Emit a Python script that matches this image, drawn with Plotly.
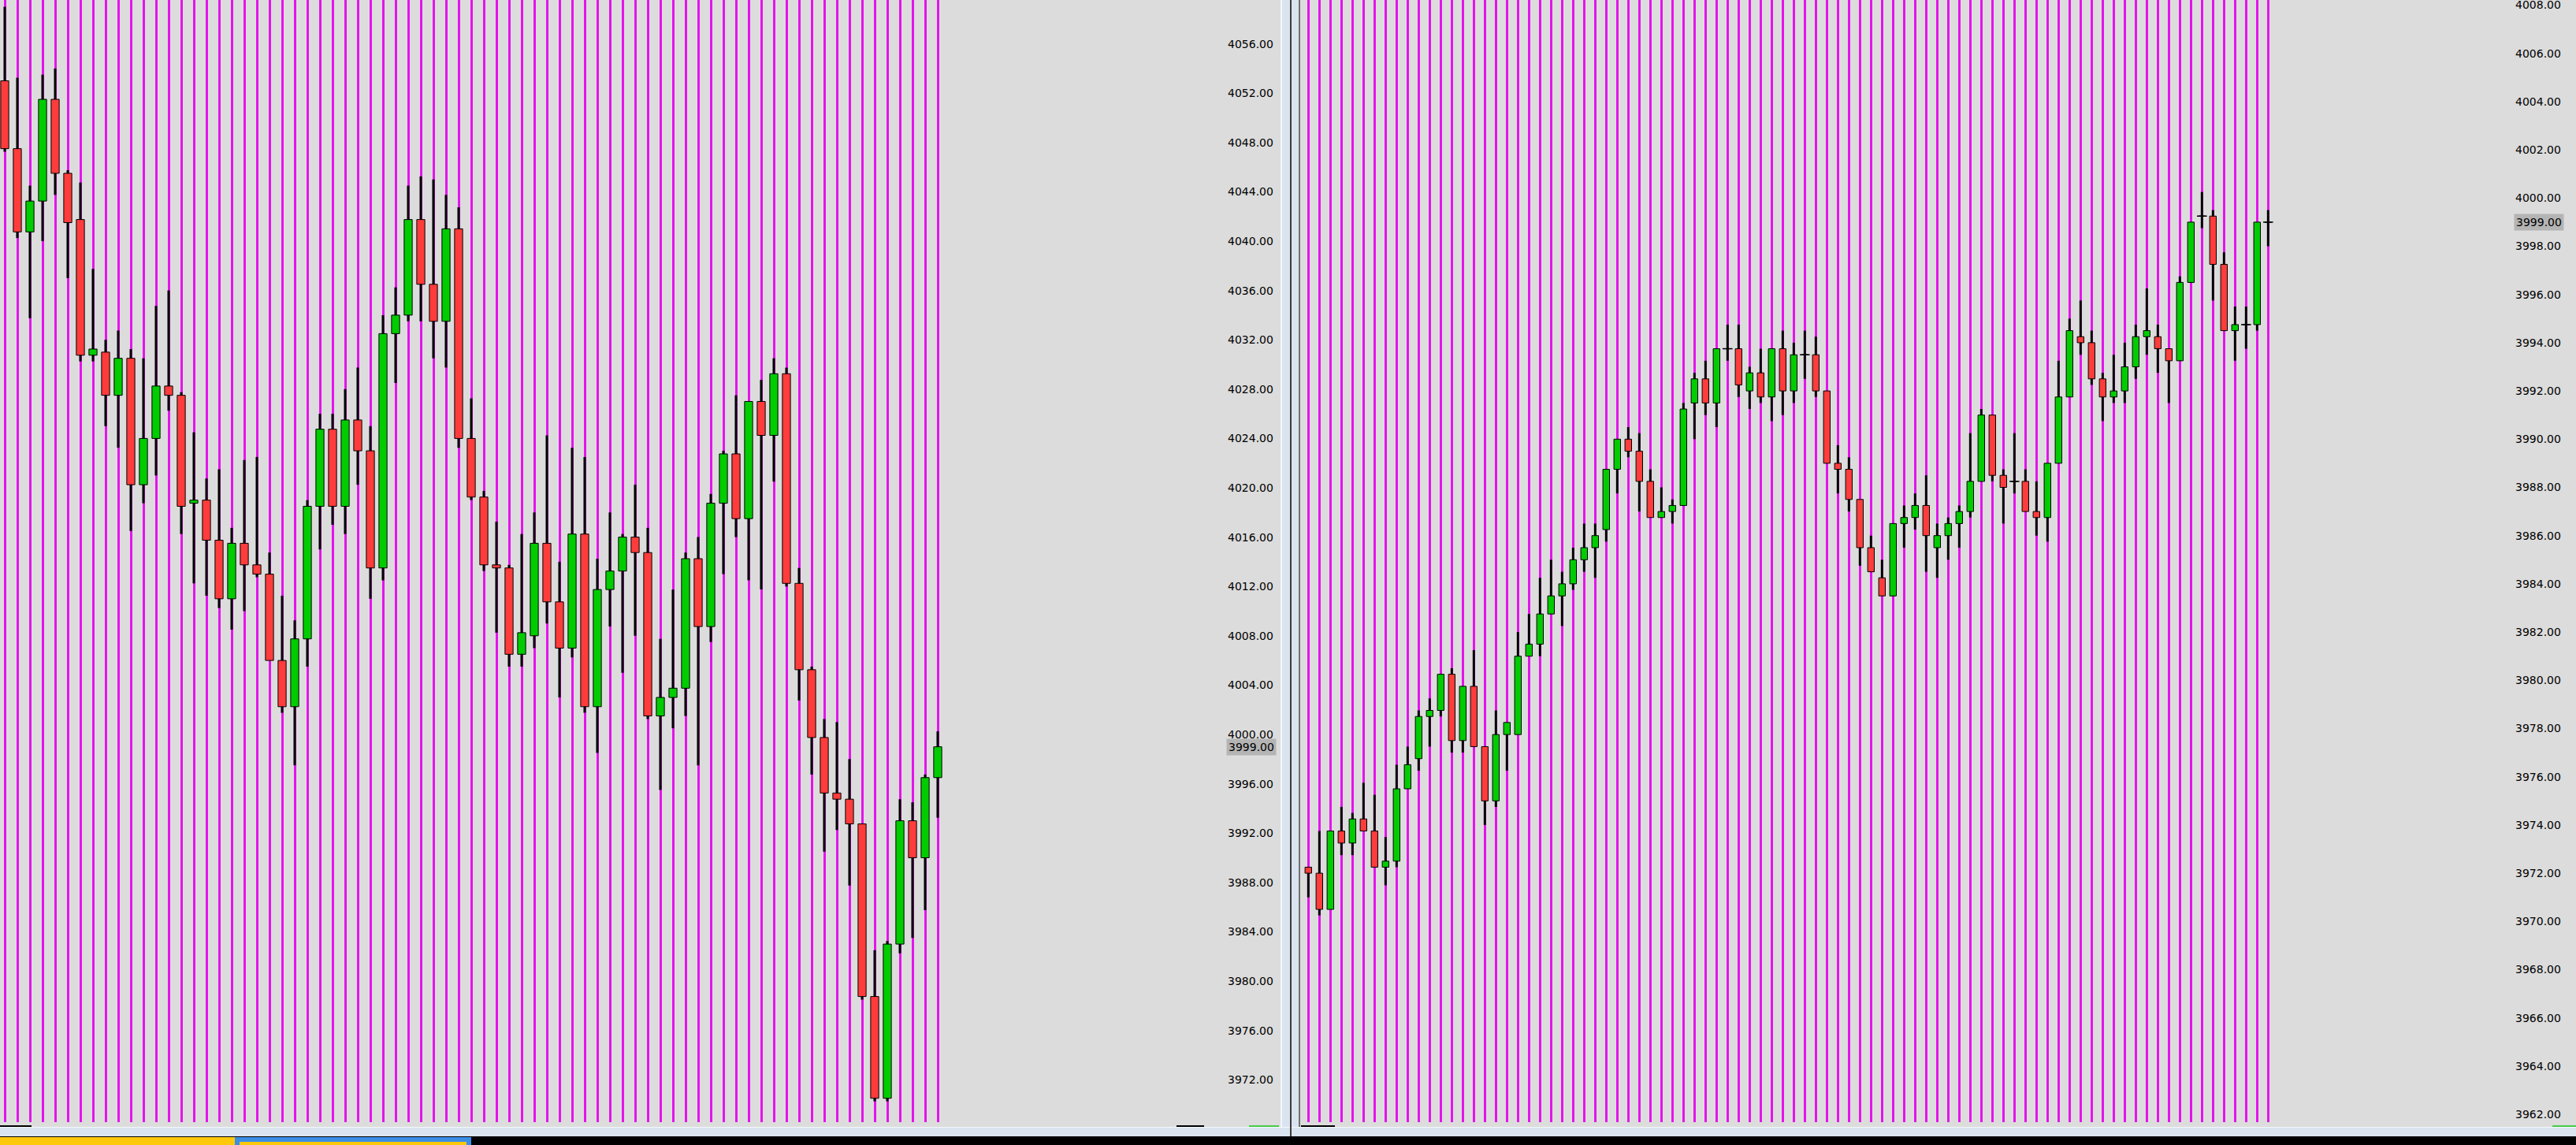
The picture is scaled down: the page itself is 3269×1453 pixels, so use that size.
import plotly.graph_objects as go

W, H = 3269, 1453

# ---------------- data: left panel (75 bars) ----------------
L_open = [4053.0, 4047.5, 4040.75, 4043.25, 4051.5, 4045.5, 4041.75, 4030.75, 4031.0, 4027.5,
          4030.5, 4020.25, 4024.0, 4028.25, 4027.5, 4018.75, 4019.0, 4015.75, 4011.0, 4015.5,
          4013.75, 4013.0, 4006.0, 4002.25, 4007.75, 4018.5, 4024.75, 4018.5, 4025.5, 4023.0,
          4013.5, 4032.5, 4034.0, 4041.75, 4036.5, 4033.5, 4041.0, 4024.0, 4019.25, 4013.75,
          4013.5, 4006.5, 4008.0, 4015.5, 4010.75, 4007.0, 4016.25, 4002.25, 4011.75, 4013.25,
          4016.0, 4014.75, 4001.5, 4003.0, 4003.75, 4014.25, 4008.75, 4018.75, 4022.75, 4017.5,
          4027.0, 4024.25, 4029.25, 4012.25, 4005.25, 3999.75, 3995.25, 3994.75, 3992.75, 3978.75,
          3970.5, 3983.0, 3993.0, 3990.0, 3996.5]
L_high = [4059.0, 4053.25, 4044.5, 4053.5, 4054.0, 4045.75, 4044.75, 4037.75, 4032.0, 4032.75,
          4031.25, 4030.5, 4034.75, 4036.0, 4027.75, 4024.5, 4020.75, 4021.5, 4016.75, 4022.25,
          4022.5, 4014.75, 4011.25, 4009.25, 4019.0, 4026.0, 4026.0, 4028.0, 4029.75, 4025.0,
          4034.0, 4036.25, 4044.5, 4045.25, 4045.0, 4043.75, 4042.75, 4027.25, 4019.75, 4017.25,
          4013.75, 4016.25, 4018.0, 4024.25, 4014.0, 4023.25, 4022.5, 4014.25, 4018.0, 4016.25,
          4020.25, 4016.75, 4007.75, 4011.75, 4014.75, 4016.0, 4019.5, 4023.0, 4027.5, 4027.0,
          4028.75, 4030.5, 4029.75, 4013.5, 4005.5, 4001.25, 4001.0, 3998.0, 3992.75, 3982.5,
          3983.25, 3994.75, 3994.5, 3996.75, 4000.25]
L_low = [4047.25, 4040.25, 4033.75, 4040.0, 4043.75, 4037.0, 4030.25, 4030.25, 4025.0, 4023.25,
         4016.5, 4018.75, 4021.0, 4026.25, 4016.25, 4012.25, 4011.25, 4010.25, 4008.5, 4010.0,
         4012.75, 4006.0, 4001.75, 3997.5, 4005.5, 4015.0, 4017.0, 4016.25, 4020.25, 4011.0,
         4012.5, 4028.5, 4033.5, 4033.5, 4030.5, 4029.75, 4023.25, 4019.0, 4013.25, 4008.25,
         4005.5, 4005.5, 4007.0, 4009.0, 4003.0, 4006.25, 4001.75, 3998.5, 4008.75, 4005.0,
         4008.0, 4001.25, 3995.5, 4000.5, 4001.5, 3997.5, 4007.5, 4013.0, 4016.0, 4012.5,
         4011.75, 4020.5, 4012.0, 4002.75, 3996.75, 3990.5, 3992.25, 3987.75, 3978.5, 3970.25,
         3970.25, 3982.25, 3983.5, 3985.75, 3993.25]
L_close = [4047.5, 4040.75, 4043.25, 4051.5, 4045.5, 4041.5, 4030.75, 4031.25, 4027.5, 4030.5,
           4020.25, 4024.0, 4028.25, 4027.5, 4018.5, 4019.0, 4015.75, 4011.0, 4015.5, 4013.75,
           4013.0, 4006.0, 4002.25, 4007.75, 4018.5, 4024.75, 4018.5, 4025.5, 4023.0, 4013.5,
           4032.5, 4034.0, 4041.75, 4036.5, 4033.5, 4041.0, 4024.0, 4019.25, 4013.75, 4013.5,
           4006.5, 4008.25, 4015.5, 4010.75, 4007.0, 4016.25, 4002.25, 4011.75, 4013.25, 4016.0,
           4014.75, 4001.5, 4003.0, 4003.75, 4014.25, 4008.75, 4018.75, 4022.75, 4017.5, 4027.0,
           4024.25, 4029.25, 4012.25, 4005.25, 3999.75, 3995.25, 3994.75, 3992.75, 3978.75, 3970.5,
           3983.0, 3993.0, 3990.0, 3996.5, 3999.0]
L_ticks = [3972 + 4 * k for k in range(22)]          # 3972 .. 4056

# ---------------- data: right panel (88 bars) ----------------
R_open = [3972.25, 3972.0, 3970.5, 3973.75, 3973.25, 3974.25, 3973.75, 3972.25, 3972.5, 3975.5,
          3976.75, 3978.5, 3978.75, 3980.25, 3977.5, 3979.75, 3977.25, 3975.0, 3977.75, 3977.75,
          3981.0, 3981.5, 3982.75, 3983.5, 3984.0, 3985.0, 3985.5, 3986.25, 3988.75, 3990.0,
          3989.5, 3988.25, 3986.75, 3987.0, 3987.25, 3991.5, 3992.5, 3991.5, 3993.75, 3993.75,
          3992.0, 3992.75, 3991.75, 3993.75, 3992.0, 3993.5, 3993.5, 3992.0, 3989.0, 3988.75,
          3987.5, 3985.5, 3984.25, 3983.5, 3986.5, 3986.75, 3987.25, 3985.5, 3986.0, 3986.5,
          3987.0, 3988.25, 3991.0, 3988.5, 3988.25, 3988.25, 3987.0, 3986.75, 3989.0, 3991.75,
          3994.25, 3994.0, 3992.5, 3991.75, 3992.0, 3993.0, 3994.25, 3994.25, 3993.75, 3993.25,
          3996.5, 3999.25, 3999.25, 3997.25, 3994.5, 3994.75, 3994.75, 3999.0]
R_high = [3972.25, 3973.75, 3973.75, 3974.75, 3974.5, 3975.75, 3975.25, 3973.5, 3976.5, 3977.25,
          3978.75, 3979.25, 3980.25, 3980.5, 3979.75, 3981.25, 3977.25, 3978.75, 3978.25, 3982.0,
          3982.75, 3984.25, 3985.0, 3984.5, 3985.5, 3986.5, 3986.5, 3988.75, 3990.0, 3990.5,
          3990.25, 3988.75, 3988.0, 3987.5, 3991.5, 3992.75, 3993.25, 3993.75, 3994.75, 3994.75,
          3993.0, 3993.75, 3993.75, 3994.5, 3994.0, 3994.5, 3994.25, 3992.0, 3989.75, 3989.25,
          3987.5, 3986.0, 3985.0, 3986.5, 3987.25, 3987.75, 3988.5, 3986.5, 3986.75, 3987.25,
          3990.25, 3991.25, 3991.0, 3988.75, 3990.25, 3988.75, 3988.25, 3989.0, 3993.25, 3995.0,
          3995.75, 3994.5, 3992.75, 3993.5, 3994.0, 3994.75, 3996.25, 3994.75, 3993.75, 3996.75,
          3999.0, 4000.25, 3999.5, 3997.75, 3995.5, 3995.5, 3999.0, 3999.5]
R_low = [3971.0, 3970.25, 3970.5, 3972.75, 3972.75, 3973.75, 3972.25, 3971.5, 3972.25, 3975.5,
         3976.25, 3977.25, 3978.5, 3977.0, 3977.0, 3977.25, 3974.0, 3974.75, 3976.25, 3977.75,
         3981.0, 3981.0, 3982.75, 3982.25, 3983.75, 3984.5, 3984.25, 3985.75, 3987.75, 3989.25,
         3987.0, 3986.75, 3986.75, 3986.5, 3987.25, 3990.0, 3991.0, 3990.5, 3993.25, 3991.75,
         3991.25, 3991.5, 3990.75, 3991.0, 3991.5, 3992.5, 3991.75, 3989.0, 3987.75, 3987.0,
         3984.75, 3984.5, 3983.5, 3983.5, 3985.5, 3986.25, 3984.5, 3984.25, 3985.0, 3985.5,
         3986.75, 3988.25, 3988.25, 3986.5, 3987.75, 3987.0, 3986.0, 3985.75, 3989.0, 3991.75,
         3993.5, 3992.25, 3990.75, 3991.5, 3991.5, 3992.5, 3993.5, 3992.75, 3991.5, 3993.25,
         3996.5, 3998.75, 3995.75, 3994.5, 3993.25, 3993.75, 3994.5, 3998.0]
R_close = [3972.0, 3970.5, 3973.75, 3973.25, 3974.25, 3973.75, 3972.25, 3972.5, 3975.5, 3976.5,
           3978.5, 3978.75, 3980.25, 3977.5, 3979.75, 3977.25, 3975.0, 3977.75, 3978.25, 3981.0,
           3981.5, 3982.75, 3983.5, 3984.0, 3985.0, 3985.5, 3986.0, 3988.75, 3990.0, 3989.5,
           3988.25, 3986.75, 3987.0, 3987.25, 3991.25, 3992.5, 3991.5, 3993.75, 3993.75, 3992.25,
           3992.75, 3991.75, 3993.75, 3992.0, 3993.5, 3993.5, 3992.0, 3989.0, 3988.75, 3987.5,
           3985.5, 3984.5, 3983.5, 3986.5, 3986.75, 3987.25, 3986.0, 3986.0, 3986.5, 3987.0,
           3988.25, 3991.0, 3988.5, 3988.0, 3988.25, 3987.0, 3986.75, 3989.0, 3991.75, 3994.5,
           3994.0, 3992.5, 3991.75, 3992.0, 3993.0, 3994.25, 3994.5, 3993.75, 3993.25, 3996.5,
           3999.0, 3999.25, 3997.25, 3994.5, 3994.75, 3994.75, 3999.0, 3999.0]
R_ticks = [3962 + 2 * k for k in range(24)]          # 3962 .. 4008

# ---------------- styles ----------------
BG = "#dcdcdc"
MAG = "#e414ec"
UP = "#00cc00"
DN = "#ff3c3c"
SEP = "#dae4f0"
FONT = dict(family="DejaVu Sans", size=14, color="#000000")


def px_x(p):
    return p / W


def px_y(p):
    return 1 - p / H


def candle_traces(o, h, l, c, xa, ya, body_w, wick_w, doji_size):
    idx = list(range(len(o)))
    wick = go.Bar(x=idx, base=l, y=[hh - ll for hh, ll in zip(h, l)], width=wick_w,
                  marker=dict(color="black", line=dict(width=0)),
                  xaxis=xa, yaxis=ya, hoverinfo="skip", showlegend=False)
    colors = [UP if cc > oo else DN for oo, cc in zip(o, c)]
    body = go.Bar(x=idx, base=[min(oo, cc) for oo, cc in zip(o, c)],
                  y=[abs(cc - oo) for oo, cc in zip(o, c)], width=body_w,
                  marker=dict(color=colors, line=dict(color="black", width=1)),
                  xaxis=xa, yaxis=ya, hoverinfo="skip", showlegend=False)
    dj = [i for i in idx if o[i] == c[i]]
    doji = go.Scatter(x=dj, y=[o[i] for i in dj], mode="markers",
                      marker=dict(symbol="line-ew", size=doji_size,
                                  line=dict(color="black", width=1.5)),
                      xaxis=xa, yaxis=ya, hoverinfo="skip", showlegend=False)
    return [wick, body, doji]


fig = go.Figure()
for t in candle_traces(L_open, L_high, L_low, L_close, "x", "y", 0.64, 0.19, 11):
    fig.add_trace(t)
for t in candle_traces(R_open, R_high, R_low, R_close, "x2", "y2", 0.6, 0.21, 9):
    fig.add_trace(t)

# geometry (pixels)
plot_bottom = 1424
L_x0, L_x1 = 0, 1553
R_x0, R_x1 = 1650, 3187
L_first, L_pitch = 6.0, 16.0
R_first, R_pitch = 1660.3, 14.0

common_x = dict(showticklabels=False, ticks="", showgrid=True, gridcolor=MAG, gridwidth=3,
                zeroline=False, showline=False, fixedrange=True)
common_y = dict(side="right", ticks="", showgrid=False, zeroline=False, showline=False,
                tickformat=".2f", tickfont=FONT, fixedrange=True, ticklabelstandoff=4,
                ticklabeloverflow="allow")

fig.update_layout(
    width=W, height=H, template="none",
    paper_bgcolor=BG, plot_bgcolor=BG,
    margin=dict(l=0, r=0, t=0, b=0),
    barmode="overlay", showlegend=False,
    xaxis=dict(domain=[px_x(L_x0), px_x(L_x1)],
               range=[(L_x0 - L_first) / L_pitch, (L_x1 - L_first) / L_pitch],
               tickmode="array", tickvals=list(range(len(L_open))), anchor="y", **common_x),
    yaxis=dict(domain=[px_y(plot_bottom), 1], anchor="x",
               range=[4059.553 - plot_bottom / 15.65, 4059.553],
               tickmode="array", tickvals=L_ticks, **common_y),
    xaxis2=dict(domain=[px_x(R_x0), px_x(R_x1)],
                range=[(R_x0 - R_first) / R_pitch, (R_x1 - R_first) / R_pitch],
                tickmode="array", tickvals=list(range(len(R_open))), anchor="y2", **common_x),
    yaxis2=dict(domain=[px_y(plot_bottom), 1], anchor="x2",
                range=[4008.212 - plot_bottom / 30.6, 4008.212],
                tickmode="array", tickvals=R_ticks, **common_y),
)

shapes = []


def rect(x0, y0, x1, y1, color):
    shapes.append(dict(type="rect", xref="paper", yref="paper",
                       x0=px_x(x0), x1=px_x(x1), y0=px_y(y1), y1=px_y(y0),
                       fillcolor=color, line=dict(width=0), layer="above"))


# vertical separator between the panels
rect(1625, 0, 1650, 1442, SEP)
rect(1625, 0, 1627, 1442, "#f4f8fc")
rect(1637, 0, 1639, 1442, "#3c3c3c")
rect(1648, 0, 1650, 1430, "#707070")
# bottom strips
rect(0, 1430, W, 1442, SEP)
rect(0, 1430, W, 1431, "#f4f8fc")
rect(1637, 1430, 1639, 1442, "#3c3c3c")
rect(0, 1442, W, H, "#000000")
rect(0, 1443, 298, H, "#ffc80a")
rect(298, 1443, 598, H, "#3a8ee6")
rect(304, 1449, 592, H, "#ffc80a")
# small scroll markers
rect(0, 1428, 40, 1430, "#000000")
rect(1493, 1428, 1528, 1430, "#000000")
rect(1585, 1428, 1623, 1430, "#44cc44")
rect(1651, 1428, 1694, 1430, "#000000")
rect(3239, 1428, W, 1430, "#44cc44")
fig.update_layout(shapes=shapes)

# current price labels
fig.add_annotation(xref="paper", yref="y", x=px_x(1556), y=L_close[-1], xanchor="left",
                   text=f"{L_close[-1]:.2f}", showarrow=False, font=FONT,
                   bgcolor="#b4b4b4", borderpad=2)
fig.add_annotation(xref="paper", yref="y2", x=px_x(3190), y=R_close[-1], xanchor="left",
                   text=f"{R_close[-1]:.2f}", showarrow=False, font=FONT,
                   bgcolor="#b4b4b4", borderpad=2)

fig.write_html("out.html",
               config={"displayModeBar": False, "staticPlot": True},
               post_script="document.body.style.margin='0';document.body.style.overflow='hidden';")
